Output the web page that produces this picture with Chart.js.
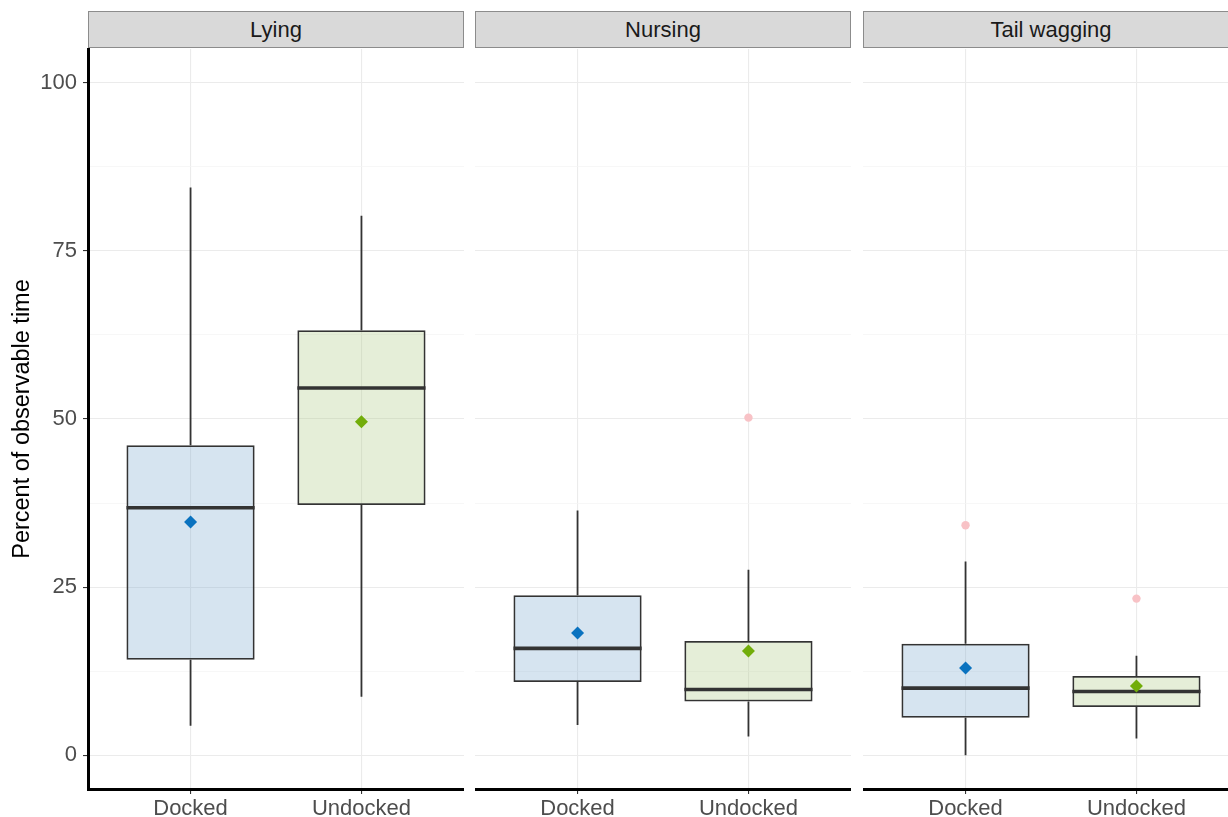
<!DOCTYPE html>
<html>
<head>
<meta charset="utf-8">
<title>Percent of observable time by tail status</title>
<script src="https://cdn.jsdelivr.net/npm/chart.js@4"></script>
<style>
  html, body { margin: 0; padding: 0; background: #fff; overflow: hidden; width: 1228px; height: 817px; }
  .panel { position: absolute; top: 0; }
  .strip {
    position: absolute; top: 11px; height: 37px; box-sizing: border-box;
    border: 1px solid #8c8c8c; background: #d9d9d9; color: #1a1a1a;
    font: 22px "Liberation Sans", Arial, sans-serif; text-align: center; line-height: 35px;
  }
</style>
</head>
<body>
<script>
// Facets, groups and the summary statistics of each box (facet x group)
const facets = ['Lying', 'Nursing', 'Tail wagging'];
const categories = ['Docked', 'Undocked'];
const whiskerLow  = [[4.4, 8.7],   [4.5, 2.8],   [0.0, 2.5]];
const quartile1   = [[14.2, 37.2], [10.9, 8.0],  [5.6, 7.2]];
const medians     = [[36.8, 54.6], [15.9, 9.8],  [10.0, 9.5]];
const quartile3   = [[46.1, 63.2], [23.8, 17.0], [16.6, 11.8]];
const whiskerHigh = [[84.4, 80.2], [36.4, 27.6], [28.8, 14.8]];
const means       = [[34.7, 49.6], [18.2, 15.5], [13.0, 10.3]];
const outliers    = [[[], []],     [[], [50.2]], [[34.2], [23.3]]];
const yTicks = [0, 25, 50, 75, 100];
const yTitle = 'Percent of observable time';

// Styling
const FONT = '"Liberation Sans", Arial, sans-serif';
const boxFill = ['rgba(118,165,205,0.3)', 'rgba(168,198,125,0.3)'];
const meanColor = ['#0a72bf', '#72ad0a'];
const outlierColor = '#f8c2c6';
const inkColor = '#333333';

// Panel geometry (plot area left edges in page pixels)
const panelLeft = [88, 475, 863];
const panelWidth = 376;
const plotTop = 49, plotBottom = 789, pageHeight = 817;

// Minor grid values sit halfway between labelled ticks
const minorTicks = yTicks.slice(1).map((v, i) => (v + yTicks[i]) / 2);
const gridValues = yTicks.concat(minorTicks).sort((a, b) => a - b);
const isMajor = v => yTicks.includes(v);

// Whiskers under the boxes, thick median bars over them
const boxplotParts = {
  id: 'boxplotParts',
  beforeDatasetsDraw(chart, args, opts) {
    const f = opts.facet;
    const meta = chart.getDatasetMeta(opts.boxIndex);
    const ys = chart.scales.y;
    const ctx = chart.ctx;
    ctx.save();
    ctx.strokeStyle = inkColor;
    ctx.lineWidth = 1.8;
    meta.data.forEach((bar, c) => {
      const x = bar.x;
      ctx.beginPath();
      ctx.moveTo(x, ys.getPixelForValue(whiskerLow[f][c]));
      ctx.lineTo(x, ys.getPixelForValue(quartile1[f][c]));
      ctx.moveTo(x, ys.getPixelForValue(quartile3[f][c]));
      ctx.lineTo(x, ys.getPixelForValue(whiskerHigh[f][c]));
      ctx.stroke();
    });
    ctx.restore();
  },
  afterDatasetDraw(chart, args, opts) {
    if (args.index !== opts.boxIndex) return;
    const f = opts.facet;
    const ys = chart.scales.y;
    const ctx = chart.ctx;
    ctx.save();
    ctx.strokeStyle = inkColor;
    ctx.lineWidth = 3.6;
    args.meta.data.forEach((bar, c) => {
      const y = ys.getPixelForValue(medians[f][c]);
      ctx.beginPath();
      ctx.moveTo(bar.x - bar.width / 2, y);
      ctx.lineTo(bar.x + bar.width / 2, y);
      ctx.stroke();
    });
    ctx.restore();
  }
};

function makePanel(f) {
  const first = f === 0;
  const left = first ? 0 : panelLeft[f];
  const width = first ? panelLeft[0] + panelWidth : panelWidth;

  const strip = document.createElement('div');
  strip.className = 'strip';
  strip.style.left = panelLeft[f] + 'px';
  strip.style.width = panelWidth + 'px';
  strip.textContent = facets[f];
  document.body.appendChild(strip);

  const canvas = document.createElement('canvas');
  canvas.className = 'panel';
  canvas.style.left = left + 'px';
  canvas.width = width;
  canvas.height = pageHeight;
  document.body.appendChild(canvas);

  const boxData = categories.map((c, i) => ({ x: i + 1, y: [quartile1[f][i], quartile3[f][i]] }));
  const meanData = categories.map((c, i) => ({ x: i + 1, y: means[f][i] }));
  const outlierData = [];
  categories.forEach((c, i) => outliers[f][i].forEach(v => outlierData.push({ x: i + 1, y: v })));

  new Chart(canvas, {
    type: 'bar',
    data: {
      datasets: [
        {
          type: 'scatter', order: 1, data: meanData,
          pointStyle: 'rectRot', pointRadius: 6.5, pointHoverRadius: 6.5,
          pointBackgroundColor: meanColor, pointBorderWidth: 0
        },
        {
          type: 'scatter', order: 2, data: outlierData,
          pointStyle: 'circle', pointRadius: 4.2, pointHoverRadius: 4.2,
          pointBackgroundColor: outlierColor, pointBorderWidth: 0
        },
        {
          type: 'bar', order: 3, data: boxData,
          backgroundColor: boxFill, borderColor: inkColor, borderWidth: 1.8,
          borderSkipped: false, categoryPercentage: 1, barPercentage: 0.75
        }
      ]
    },
    options: {
      responsive: false,
      animation: false,
      devicePixelRatio: 1,
      layout: { autoPadding: false, padding: { top: plotTop, left: 0, right: 0, bottom: 0 } },
      plugins: {
        legend: { display: false },
        tooltip: { enabled: false },
        boxplotParts: { facet: f, boxIndex: 2 }
      },
      scales: {
        x: {
          type: 'linear', min: 0.4, max: 2.6, offset: false,
          afterBuildTicks: s => { s.ticks = categories.map((c, i) => ({ value: i + 1 })); },
          afterFit: s => { s.height = pageHeight - plotBottom; },
          grid: { offset: false, color: '#ebebeb', lineWidth: 1.1, tickColor: inkColor, tickLength: 5 },
          border: { color: '#000', width: 3 },
          ticks: {
            color: '#4d4d4d', font: { family: FONT, size: 22 }, padding: 2,
            maxRotation: 0, autoSkip: false,
            callback: v => categories[Math.round(v) - 1]
          }
        },
        y: {
          type: 'linear', min: -5, max: 105,
          afterBuildTicks: s => { s.ticks = gridValues.map(v => ({ value: v })); },
          afterFit: s => { s.width = first ? panelLeft[0] : 0; },
          grid: {
            color: c => (c.tick && isMajor(c.tick.value)) ? '#ebebeb' : '#f4f4f4',
            lineWidth: c => (c.tick && isMajor(c.tick.value)) ? 1.1 : 0.7,
            tickColor: c => (c.tick && isMajor(c.tick.value)) ? inkColor : 'rgba(0,0,0,0)',
            tickLength: 5,
            drawTicks: first
          },
          border: { display: first, color: '#000', width: 3 },
          ticks: {
            display: first, padding: 6, color: '#4d4d4d', autoSkip: false,
            font: { family: FONT, size: 22 },
            callback: v => isMajor(v) ? String(v) : ''
          },
          title: {
            display: first, text: yTitle, color: '#000',
            font: { family: FONT, size: 23.5 }, padding: { top: 8, bottom: 0 }
          }
        }
      }
    },
    plugins: [boxplotParts]
  });
}

facets.forEach((name, f) => makePanel(f));
</script>
</body>
</html>
